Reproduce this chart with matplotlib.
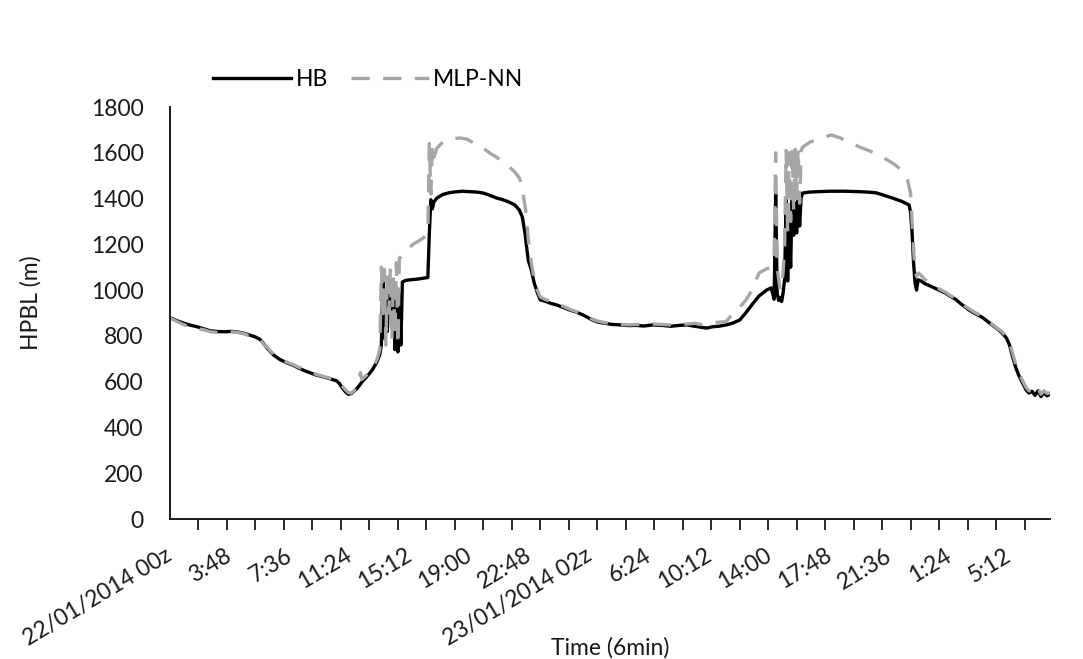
import matplotlib.pyplot as plt
from matplotlib.ticker import FixedLocator, MultipleLocator

# step index (6 min records) and boundary layer height
hbStep = [0, 4, 8, 13, 18, 23, 27, 32, 37, 41, 45, 49, 53, 57, 60, 62, 65, 69, 73, 78,
          82, 85, 89, 93, 97, 100, 104, 107, 111, 113, 115, 117, 119, 121, 123, 125, 128, 131, 133, 135,
          138, 140, 141, 142, 143, 144, 145, 146, 147, 148, 149, 150, 151, 152, 153, 154, 155, 157, 160, 165,
          169, 172, 173, 174, 175, 176, 178, 182, 186, 190, 195, 200, 205, 209, 213, 218, 222, 226, 230, 233,
          235, 236, 237, 238, 239, 241, 243, 245, 247, 250, 254, 258, 262, 267, 271, 276, 281, 285, 290, 295,
          300, 306, 311, 316, 322, 328, 334, 340, 345, 350, 354, 358, 362, 366, 371, 375, 380, 384, 389, 393,
          398, 401, 403, 404, 405, 406, 407, 408, 409, 410, 411, 412, 413, 414, 415, 416, 417, 418, 419, 420,
          421, 422, 426, 432, 440, 450, 460, 466, 471, 476, 482, 488, 493, 494, 495, 496, 497, 498, 499, 501,
          503, 508, 513, 517, 520, 524, 527, 530, 533, 537, 542, 546, 549, 552, 555, 558, 560, 562, 564, 566,
          569, 571, 573, 575, 577, 579, 581, 583, 585, 587]
hbValue = [880, 868, 858, 848, 840, 830, 822, 819, 818, 820, 817, 812, 804, 795, 785, 770, 745, 717, 698, 682,
           672, 662, 650, 640, 630, 625, 618, 612, 604, 592, 572, 556, 545, 548, 560, 572, 598, 620, 635, 652,
           686, 720, 760, 1050, 790, 990, 820, 1030, 1000, 900, 1040, 740, 1010, 730, 980, 760, 1035, 1042, 1045, 1048,
           1052, 1055, 1250, 1395, 1355, 1385, 1402, 1418, 1425, 1429, 1432, 1430, 1428, 1424, 1415, 1402, 1395, 1385, 1372, 1350,
           1320, 1280, 1240, 1180, 1130, 1088, 1030, 990, 957, 952, 942, 935, 925, 912, 904, 890, 872, 861, 855, 850,
           848, 845, 846, 843, 848, 846, 842, 846, 848, 842, 838, 834, 840, 842, 848, 855, 869, 900, 943, 975,
           1000, 1010, 960, 1420, 985, 955, 968, 950, 990, 1050, 1400, 1040, 1300, 1100, 1410, 1240, 1380, 1250, 1410, 1280,
           1405, 1424, 1428, 1430, 1432, 1432, 1430, 1428, 1425, 1415, 1402, 1388, 1372, 1340, 1250, 1120, 1030, 1000, 1045, 1040,
           1030, 1015, 1000, 988, 975, 960, 943, 928, 913, 898, 880, 860, 845, 830, 813, 790, 760, 710, 665, 630,
           590, 565, 550, 558, 540, 560, 535, 552, 538, 545]

mlpStep = [0, 4, 8, 13, 18, 23, 27, 32, 37, 41, 45, 49, 53, 57, 60, 62, 65, 69, 73, 78,
           82, 85, 89, 93, 97, 100, 104, 107, 111, 113, 115, 117, 119, 121, 123, 125, 127, 128, 131, 133,
           135, 138, 140, 141, 142, 143, 144, 145, 146, 147, 148, 149, 150, 151, 152, 153, 154, 158, 162, 166,
           169, 172, 173, 174, 175, 176, 178, 182, 187, 193, 198, 202, 208, 213, 218, 222, 226, 230, 233, 235,
           236, 237, 238, 239, 241, 243, 245, 247, 250, 254, 258, 262, 267, 271, 276, 281, 285, 290, 295, 300,
           306, 311, 316, 322, 328, 334, 340, 345, 350, 354, 358, 362, 366, 371, 375, 380, 384, 387, 390, 393,
           397, 401, 403, 404, 405, 406, 407, 408, 409, 410, 411, 412, 413, 414, 415, 416, 417, 418, 419, 420,
           421, 422, 427, 434, 441, 447, 453, 460, 466, 470, 476, 482, 486, 489, 492, 494, 495, 496, 497, 498,
           499, 501, 503, 508, 513, 517, 520, 524, 527, 530, 533, 537, 542, 546, 549, 552, 555, 558, 560, 562,
           564, 566, 569, 571, 573, 575, 577, 579, 581, 583, 585, 587]
mlpValue = [878, 865, 852, 840, 833, 826, 818, 815, 816, 818, 815, 810, 800, 792, 782, 768, 748, 720, 700, 685,
            675, 665, 655, 644, 633, 627, 620, 614, 606, 595, 580, 565, 552, 550, 562, 580, 640, 610, 628, 640,
            660, 695, 740, 1100, 880, 1090, 760, 1080, 900, 1100, 780, 1060, 800, 1120, 760, 1140, 1145, 1175, 1200, 1215,
            1228, 1250, 1640, 1420, 1630, 1580, 1620, 1647, 1658, 1665, 1660, 1645, 1625, 1600, 1580, 1560, 1540, 1516, 1490, 1459,
            1400, 1363, 1300, 1220, 1120, 1045, 1000, 970, 960, 950, 940, 930, 915, 906, 892, 875, 865, 858, 852, 850,
            848, 850, 848, 852, 850, 848, 850, 852, 855, 850, 848, 855, 860, 862, 895, 925, 955, 987, 1030, 1075,
            1090, 1101, 1150, 1600, 1100, 1050, 1000, 1020, 1080, 1200, 1610, 1250, 1600, 1300, 1620, 1350, 1615, 1400, 1620, 1380,
            1610, 1625, 1647, 1662, 1678, 1665, 1647, 1625, 1610, 1599, 1578, 1555, 1535, 1516, 1480, 1424, 1300, 1180, 1080, 1060,
            1075, 1065, 1050, 1025, 1005, 992, 978, 963, 948, 932, 918, 902, 884, 863, 848, 832, 818, 795, 770, 725,
            680, 642, 600, 575, 560, 565, 550, 570, 545, 560, 548, 552]

labelStep = [0, 40, 80, 120, 160, 200, 240, 280, 320, 360, 400, 440, 480, 520, 560]
timeLabels = ["22/01/2014 00z", "3:48", "7:36", "11:24", "15:12", "19:00", "22:48",
              "23/01/2014 02z", "6:24", "10:12", "14:00", "17:48", "21:36", "1:24", "5:12"]

plt.rcParams['font.family'] = ['Lato', 'DejaVu Sans']
fs = 16.5
txt = "#1a1a1a"

fig = plt.figure(figsize=(10.83, 6.59), dpi=100)
ax = fig.add_axes([170 / 1083, 1 - 519 / 659, 880 / 1083, 412 / 659])

ax.plot(hbStep, hbValue, color="black", linewidth=2.4, label="HB",
        solid_joinstyle="round")
ax.plot(mlpStep, mlpValue, color="#a6a6a6", linewidth=2.4, label="MLP-NN",
        dashes=(5.5, 4))

ax.set_xlim(0, 587)
ax.set_ylim(0, 1800)
ax.yaxis.set_major_locator(MultipleLocator(200))
ax.tick_params(axis="y", length=0, pad=19, labelsize=fs, colors=txt)

ax.xaxis.set_major_locator(FixedLocator(labelStep))
ax.set_xticklabels(timeLabels)
ax.xaxis.set_minor_locator(MultipleLocator(19))
ax.tick_params(axis="x", which="major", length=0, pad=25, labelsize=fs, colors=txt)
ax.tick_params(axis="x", which="minor", length=8, width=1.3, color=txt)
for lab in ax.get_xticklabels():
    lab.set_rotation(31)
    lab.set_ha("right")
    lab.set_va("center")
    lab.set_rotation_mode("anchor")

for s in ["top", "right"]:
    ax.spines[s].set_visible(False)
for s in ["left", "bottom"]:
    ax.spines[s].set_linewidth(1.4)
    ax.spines[s].set_color(txt)

ax.set_ylabel("HPBL (m)", fontsize=fs, color=txt)
ax.yaxis.set_label_coords(-128 / 880, 0.525)
fig.text(610 / 1083, 1 - 648 / 659, "Time (6min)", ha="center", va="center",
         fontsize=fs, color=txt)

fig.legend(loc="center left", bbox_to_anchor=(213 / 1083, 1 - 80 / 659), ncol=2,
           frameon=False, fontsize=fs, handlelength=3.4, handletextpad=0.2,
           columnspacing=1.0, borderpad=0, borderaxespad=0)

fig.savefig("out.png", dpi=100)
